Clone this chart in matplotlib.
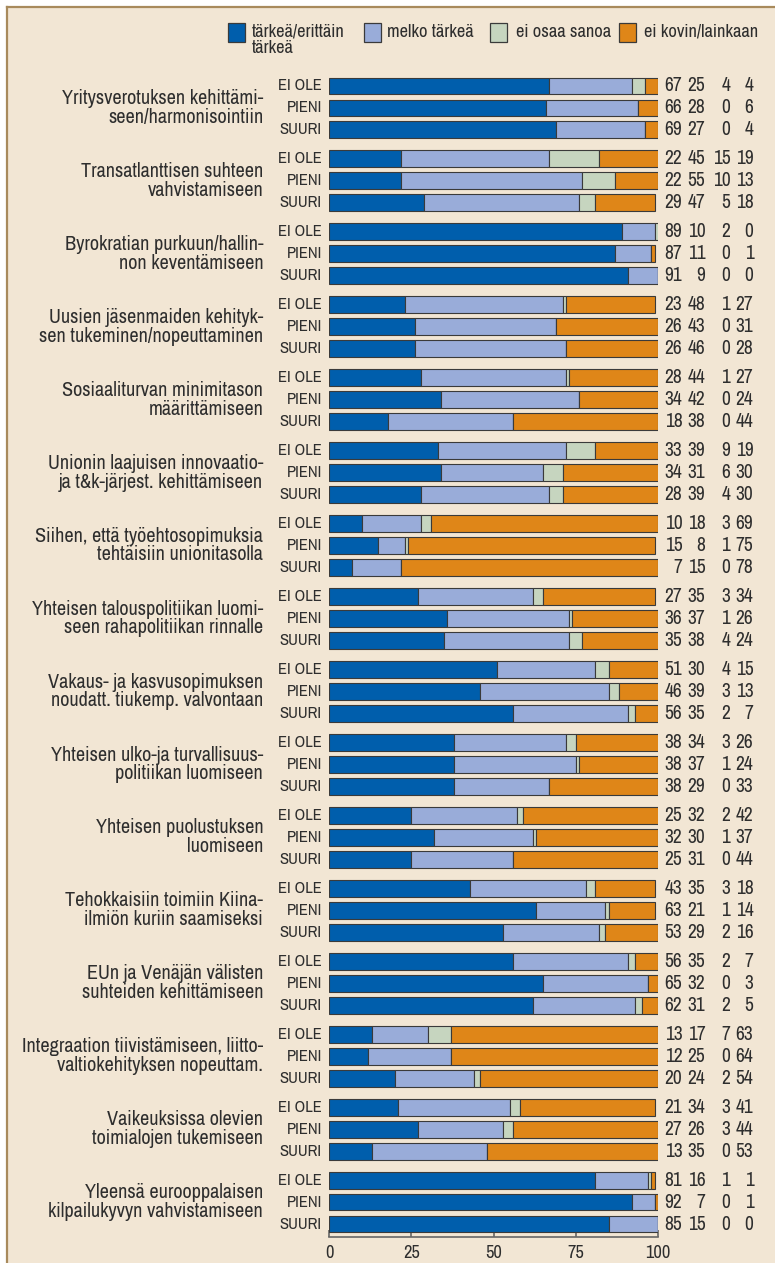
"""Stacked horizontal bars: importance ratings by company size (EI OLE / PIENI / SUURI)."""

import matplotlib

matplotlib.use("Agg")
import matplotlib.pyplot as plt  # noqa: E402
from matplotlib import font_manager  # noqa: E402
from matplotlib.patches import Rectangle  # noqa: E402
from matplotlib.lines import Line2D  # noqa: E402

# ---- data -----------------------------------------------------------------
categories = [
    "Yritysverotuksen kehittämi-\nseen/harmonisointiin",
    "Transatlanttisen suhteen\nvahvistamiseen",
    "Byrokratian purkuun/hallin-\nnon keventämiseen",
    "Uusien jäsenmaiden kehityk-\nsen tukeminen/nopeuttaminen",
    "Sosiaaliturvan minimitason\nmäärittämiseen",
    "Unionin laajuisen innovaatio-\nja t&k-järjest. kehittämiseen",
    "Siihen, että työehtosopimuksia\ntehtäisiin unionitasolla",
    "Yhteisen talouspolitiikan luomi-\nseen rahapolitiikan rinnalle",
    "Vakaus- ja kasvusopimuksen\nnoudatt. tiukemp. valvontaan",
    "Yhteisen ulko-ja turvallisuus-\npolitiikan luomiseen",
    "Yhteisen puolustuksen\nluomiseen",
    "Tehokkaisiin toimiin Kiina-\nilmiön kuriin saamiseksi",
    "EUn ja Venäjän välisten\nsuhteiden kehittämiseen",
    "Integraation tiivistämiseen, liitto-\nvaltiokehityksen nopeuttam.",
    "Vaikeuksissa olevien\ntoimialojen tukemiseen",
    "Yleensä eurooppalaisen\nkilpailukyvyn vahvistamiseen",
]
groups = ["EI OLE", "PIENI", "SUURI"]
series_names = ["tärkeä/erittäin\ntärkeä", "melko tärkeä", "ei osaa sanoa",
                "ei kovin/lainkaan"]

# one row per bar, in order category -> (EI OLE, PIENI, SUURI)
tarkea = [67, 66, 69, 22, 22, 29, 89, 87, 91, 23, 26, 26, 28, 34, 18, 33, 34, 28,
          10, 15, 7, 27, 36, 35, 51, 46, 56, 38, 38, 38, 25, 32, 25, 43, 63, 53,
          56, 65, 62, 13, 12, 20, 21, 27, 13, 81, 92, 85]
melko = [25, 28, 27, 45, 55, 47, 10, 11, 9, 48, 43, 46, 44, 42, 38, 39, 31, 39,
         18, 8, 15, 35, 37, 38, 30, 39, 35, 34, 37, 29, 32, 30, 31, 35, 21, 29,
         35, 32, 31, 17, 25, 24, 34, 26, 35, 16, 7, 15]
ei_osaa = [4, 0, 0, 15, 10, 5, 2, 0, 0, 1, 0, 0, 1, 0, 0, 9, 6, 4,
           3, 1, 0, 3, 1, 4, 4, 3, 2, 3, 1, 0, 2, 1, 0, 3, 1, 2,
           2, 0, 2, 7, 0, 2, 3, 3, 0, 1, 0, 0]
ei_kovin = [4, 6, 4, 19, 13, 18, 0, 1, 0, 27, 31, 28, 27, 24, 44, 19, 30, 30,
            69, 75, 78, 34, 26, 24, 15, 13, 7, 26, 24, 33, 42, 37, 44, 18, 14, 16,
            7, 3, 5, 63, 64, 54, 41, 44, 53, 1, 1, 0]
xticks = [0, 25, 50, 75, 100]

# ---- style ----------------------------------------------------------------
COLORS = ["#005eac", "#99acd9", "#c6d5bf", "#df8618"]
EDGE = "#3a3a3a"
BG = "#f2e6d4"
FRAME = "#a88a5c"
TXT = "#2e2e2e"

# the original uses a condensed grotesque; take the first narrow face installed
PREFERRED = ["Archivo Narrow", "Pragati Narrow", "Roboto Condensed",
             "Liberation Sans Narrow"]
upright = {f.name for f in font_manager.fontManager.ttflist if f.style == "normal"}
FONT = next((n for n in PREFERRED if n in upright), "DejaVu Sans")
plt.rcParams["font.family"] = [FONT, "DejaVu Sans"]

W, H = 775, 1263
GROUP_STEP = 3.32   # distance between groups, in bar steps
BAR_H = 0.77

fig = plt.figure(figsize=(W / 100, H / 100), dpi=100, facecolor="white")
renderer = fig.canvas.get_renderer()


def fit_size(sample, target_px):
    """Font size (pt) at which `sample` is about target_px wide."""
    t = fig.text(0, 0, sample, fontsize=10)
    width = t.get_window_extent(renderer).width
    t.remove()
    return 10 * target_px / width


CAT_FS = fit_size("Yritysverotuksen kehittämi-", 204)
GRP_FS = fit_size("EI OLE", 44)
NUM_FS = fit_size("22", 17.5)
LEG_FS = fit_size("ei kovin/lainkaan", 115)
TICK_FS = fit_size("100", 25)

# beige panel with a frame line on the top and left
fig.patches.append(Rectangle((7 / W, 0), 1, 1 - 7 / H, transform=fig.transFigure,
                             facecolor=BG, edgecolor="none", zorder=-5))
fig.lines.append(Line2D([7 / W, 1], [1 - 7 / H, 1 - 7 / H], transform=fig.transFigure,
                        color=FRAME, lw=1.6))
fig.lines.append(Line2D([7 / W, 7 / W], [0, 1 - 7 / H], transform=fig.transFigure,
                        color=FRAME, lw=1.6))

px_per_unit = 21.97
y_first, y_last_px = 86, 1224
n_cat = len(categories)
y_max = (n_cat - 1) * GROUP_STEP + 2
top_px, bottom_px = 70, 1237
ax = fig.add_axes([329 / W, 1 - bottom_px / H, 329 / W, (bottom_px - top_px) / H])
ax.set_facecolor("none")
ax.set_xlim(0, 100)
ax.set_ylim(y_max + (bottom_px - y_last_px) / px_per_unit,
            -(y_first - top_px) / px_per_unit)

ys = [i * GROUP_STEP + j for i in range(n_cat) for j in range(len(groups))]
values = [tarkea, melko, ei_osaa, ei_kovin]
left = [0] * len(ys)
for vals, color in zip(values, COLORS):
    ax.barh(ys, vals, left=left, height=BAR_H, color=color, edgecolor=EDGE,
            linewidth=0.8, zorder=3)
    left = [a + b for a, b in zip(left, vals)]

# group labels and value columns
num_x = [107.4, 114.4, 122.0, 129.0]
for k, y in enumerate(ys):
    ax.text(-2.2, y, groups[k % 3], ha="right", va="center", fontsize=GRP_FS,
            color=TXT, clip_on=False)
    for vals, x in zip(values, num_x):
        ax.text(x, y, str(vals[k]), ha="right", va="center", fontsize=NUM_FS,
                color=TXT, clip_on=False)

# category labels centred on the middle bar
for i, cat in enumerate(categories):
    ax.text(-20.0, i * GROUP_STEP + 1, cat, ha="right", va="center",
            fontsize=CAT_FS, color=TXT, linespacing=0.98, clip_on=False)

ax.set_xticks(xticks)
ax.set_yticks([])
for side in ("top", "right", "left"):
    ax.spines[side].set_visible(False)
ax.spines["bottom"].set_color("#666666")
ax.spines["bottom"].set_linewidth(1.2)
ax.tick_params(axis="x", direction="in", length=5, width=1.2, color="#666666",
               labelsize=TICK_FS, labelcolor=TXT, pad=6)

# legend drawn by hand along the top
leg_sq_x = [228, 364, 490, 619]
leg_txt_x = [252, 387, 516, 644]
for name, color, sx, tx in zip(series_names, COLORS, leg_sq_x, leg_txt_x):
    fig.patches.append(Rectangle((sx / W, 1 - 42 / H), 17 / W, 19 / H,
                                 transform=fig.transFigure, facecolor=color,
                                 edgecolor=EDGE, linewidth=0.9))
    fig.text(tx / W, 1 - 24 / H, name, ha="left", va="top", fontsize=LEG_FS,
             color=TXT, linespacing=1.02)

fig.savefig("out.png", dpi=100, facecolor="white")
